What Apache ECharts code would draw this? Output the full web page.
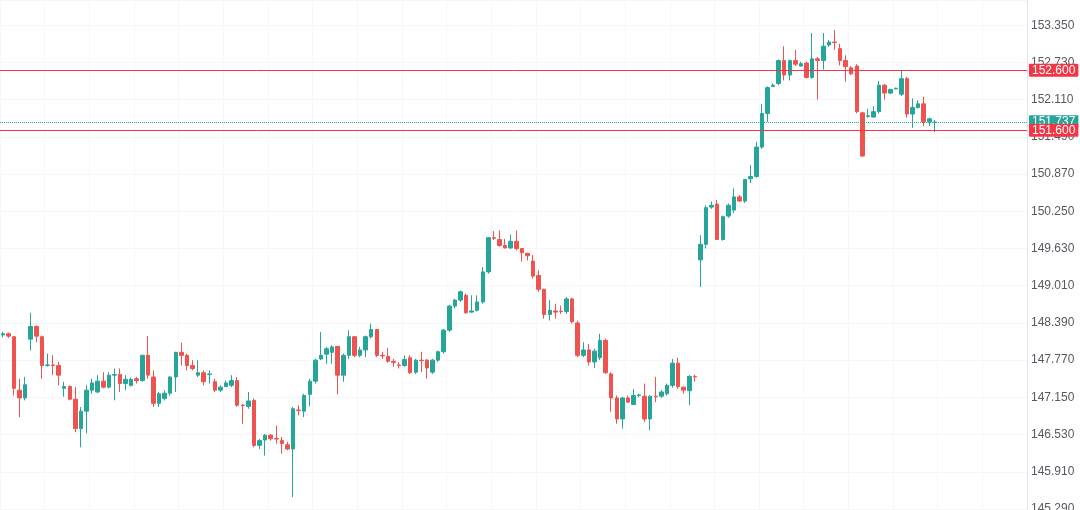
<!DOCTYPE html>
<html>
<head>
<meta charset="utf-8">
<script src="https://cdn.jsdelivr.net/npm/echarts@6/dist/echarts.min.js"></script>
<style>
  html, body { margin: 0; padding: 0; background: #ffffff; }
  #chart { width: 1080px; height: 510px; }
</style>
</head>
<body>
<div id="chart"></div>
<script>
// Candle values: [open, close, low, high]
const candles = [
  [148.19,148.21,148.15,148.24],[148.21,148.17,148.14,148.23],[148.16,147.30,147.18,148.17],[147.27,147.14,146.82,147.46],
  [147.14,147.36,147.10,147.49],[148.12,148.33,147.93,148.56],[148.33,148.17,148.07,148.35],[148.16,147.68,147.46,148.18],
  [147.68,147.69,147.66,147.88],[147.69,147.68,147.52,147.85],[147.68,147.52,147.35,147.74],[147.30,147.33,147.16,147.41],
  [147.33,147.12,147.10,147.35],[147.12,146.63,146.57,147.32],[146.63,146.92,146.32,146.99],[146.92,147.27,146.55,147.35],
  [147.27,147.39,147.21,147.46],[147.24,147.42,147.22,147.52],[147.42,147.32,147.30,147.57],[147.32,147.52,147.30,147.57],
  [147.52,147.53,147.10,147.63],[147.53,147.38,147.24,147.63],[147.38,147.45,147.27,147.52],[147.35,147.45,147.33,147.48],
  [147.46,147.43,147.38,147.49],[147.43,147.85,147.41,147.86],[147.85,147.52,147.46,148.17],[147.49,147.05,146.99,147.60],
  [147.05,147.21,146.99,147.24],[147.13,147.22,147.10,147.27],[147.22,147.49,147.18,147.50],[147.49,147.90,147.24,147.91],
  [147.90,147.85,147.68,148.06],[147.85,147.68,147.60,147.88],[147.68,147.63,147.60,147.77],[147.52,147.56,147.49,147.77],
  [147.56,147.41,147.35,147.60],[147.53,147.54,147.38,147.60],[147.41,147.27,147.24,147.46],[147.27,147.32,147.24,147.35],
  [147.33,147.39,147.32,147.43],[147.35,147.43,147.32,147.52],[147.43,147.02,146.99,147.49],[147.02,147.01,146.71,147.04],
  [147.00,147.09,146.96,147.24],[147.10,146.35,146.32,147.13],[146.35,146.43,146.29,146.46],[146.44,146.52,146.18,146.54],
  [146.52,146.46,146.43,146.54],[146.465,146.455,146.38,146.68],[146.43,146.38,146.21,146.49],[146.36,146.29,146.27,146.41],
  [146.29,146.96,145.49,146.99],[146.94,146.93,146.85,147.02],[146.92,147.18,146.82,147.21],[147.20,147.42,147.00,147.46],
  [147.42,147.77,147.38,147.79],[147.79,147.85,147.77,148.24],[147.87,147.96,147.71,147.99],[147.90,147.99,147.71,148.02],
  [148.00,147.52,147.20,148.00],[147.52,147.85,147.41,147.88],[147.85,148.16,147.79,148.27],[148.16,147.85,147.82,148.17],
  [147.85,147.94,147.82,147.99],[147.94,148.16,147.82,148.18],[148.16,148.28,148.13,148.38],[148.28,147.85,147.82,148.29],
  [147.85,147.84,147.79,147.91],[147.83,147.75,147.73,147.97],[147.75,147.73,147.66,147.79],[147.69,147.68,147.63,147.74],
  [147.68,147.78,147.66,147.85],[147.81,147.56,147.54,147.85],[147.57,147.77,147.54,147.79],[147.77,147.76,147.57,147.91],
  [147.77,147.64,147.46,147.79],[147.57,147.77,147.54,147.79],[147.77,147.91,147.74,147.93],[147.91,148.27,147.88,148.29],
  [148.27,148.67,148.24,148.69],[148.67,148.77,148.63,148.79],[148.77,148.91,148.74,148.93],[148.85,148.56,148.54,148.88],
  [148.57,148.59,148.56,148.85],[148.60,148.74,148.58,148.85],[148.74,149.24,148.71,149.32],[149.24,149.81,149.21,149.82],
  [149.81,149.80,149.77,149.92],[149.78,149.68,149.66,149.93],[149.68,149.64,149.63,149.79],[149.64,149.75,149.62,149.86],
  [149.75,149.63,149.60,149.93],[149.63,149.56,149.41,149.64],[149.55,149.51,149.43,149.56],[149.42,149.17,149.13,149.52],
  [149.18,148.95,148.91,149.27],[148.95,148.53,148.46,148.96],[148.53,148.60,148.43,148.77],[148.59,148.57,148.46,148.71],
  [148.585,148.58,148.54,148.68],[148.58,148.79,148.54,148.82],[148.79,148.41,148.38,148.81],[148.39,147.85,147.82,148.43],
  [147.85,147.94,147.82,148.07],[147.94,147.74,147.68,148.04],[147.74,147.92,147.64,147.96],[147.81,148.10,147.77,148.21],
  [148.10,147.56,147.54,148.13],[147.54,147.14,146.91,147.57],[147.14,146.79,146.71,147.18],[146.79,147.14,146.63,147.16],
  [147.14,147.07,147.06,147.18],[147.03,147.18,147.02,147.29],[147.18,147.19,147.15,147.21],[147.17,146.79,146.74,147.38],
  [146.79,147.17,146.60,147.18],[147.17,147.16,147.07,147.49],[147.17,147.24,147.14,147.27],[147.21,147.35,147.18,147.38],
  [147.35,147.72,147.31,147.79],[147.72,147.33,147.29,147.81],[147.32,147.27,147.21,147.33],[147.26,147.50,147.02,147.52],
  [147.50,147.49,147.41,147.53],[149.44,149.70,148.99,149.85],[149.70,150.31,149.63,150.35],[150.32,150.35,150.29,150.41],
  [150.37,149.78,149.77,150.44],[149.78,150.16,149.76,150.18],[150.17,150.35,150.14,150.38],[150.27,150.49,150.22,150.63],
  [150.49,150.42,150.41,150.52],[150.42,150.78,150.39,150.79],[150.79,150.83,150.72,151.02],[150.83,151.32,150.81,151.41],
  [151.32,151.88,151.29,152.04],[151.88,152.31,151.74,152.33],[152.33,152.35,152.32,152.38],[152.38,152.76,152.35,152.78],
  [152.76,152.52,152.43,153.00],[152.52,152.76,152.43,152.78],[152.76,152.70,152.67,152.94],[152.67,152.71,152.66,152.74],
  [152.72,152.48,152.46,152.74],[152.48,152.79,152.46,153.22],[152.79,152.76,152.11,152.82],[152.76,153.00,152.61,153.22],
  [153.02,153.07,152.99,153.10],[153.07,153.06,152.94,153.27],[152.96,152.76,152.68,153.04],[152.76,152.66,152.41,152.85],
  [152.64,152.54,152.52,152.67],[152.67,151.91,151.88,152.70],[151.89,151.17,151.16,151.91],[151.83,151.84,151.81,151.96],
  [151.82,151.91,151.81,152.00],[151.91,152.35,151.88,152.42],[152.35,152.22,152.11,152.37],[152.22,152.28,152.20,152.29],
  [152.29,152.30,152.28,152.31],[152.20,152.46,152.17,152.59],[152.46,151.87,151.81,152.49],[151.87,151.98,151.64,152.13],
  [151.98,152.04,151.96,152.10],[152.04,151.74,151.67,152.16],[151.74,151.79,151.67,151.81],[151.73,151.737,151.57,151.77]
];
const slotCount = 184;            // total time slots on the axis (empty ones on the right)
const categories = Array.from({length: slotCount}, (_, i) => String(i));
const yMin = 145.29, yMax = 153.77, yStep = 0.62;
const levelLines = [152.6, 151.6];
const lastPrice = 151.737;

const UP = '#26a69a', DOWN = '#ef5350', LEVEL = '#f23645';
const FONT = 'Liberation Sans';

const chart = echarts.init(document.getElementById('chart'), null, {renderer: 'canvas'});
const tagLabel = (bg, v) => ({
  show: true, position: 'end', distance: 2,
  formatter: () => v.toFixed(3),
  color: '#ffffff', backgroundColor: bg, padding: [1, 3, 0, 3],
  fontSize: 12, fontFamily: FONT, borderRadius: 1
});
const markSeries = (color, type, values, z) => ({
  type: 'line', data: [], silent: true, z: z,
  color: color, itemStyle: {color: color}, lineStyle: {color: color},
  markLine: {
    symbol: ['none', 'none'], silent: true, animation: false,
    emphasis: {disabled: true},
    lineStyle: {color: color, type: type, width: 1},
    data: values.map(v => ({yAxis: v, label: tagLabel(color, v)}))
  }
});
chart.setOption({
  animation: false,
  backgroundColor: '#ffffff',
  grid: {left: 0, right: 53, top: 0, bottom: 1, containLabel: false, outerBoundsMode: 'none'},
  xAxis: {
    type: 'category', data: categories, boundaryGap: true,
    axisLine: {show: false}, axisTick: {show: false}, axisLabel: {show: false},
    splitLine: {show: true, interval: (i) => i % 8 === 0, lineStyle: {color: '#f7f7f9', width: 1}}
  },
  yAxis: {
    type: 'value', position: 'right', scale: true,
    min: yMin, max: yMax, interval: yStep,
    axisLine: {show: true, lineStyle: {color: '#e0e3eb'}},
    axisTick: {show: false},
    axisLabel: {
      margin: 4, color: '#555a60', fontSize: 12, fontFamily: FONT, showMaxLabel: false,
      formatter: (v) => v.toFixed(3)
    },
    splitLine: {show: true, lineStyle: {color: '#f6f6f8', width: 1}}
  },
  series: [
    {
      type: 'candlestick', data: candles, clip: false, barWidth: 4, z: 2,
      itemStyle: {color: UP, color0: DOWN, borderColor: UP, borderColor0: DOWN, borderWidth: 1}
    },
    markSeries(UP, 'dotted', [lastPrice], 3),
    // long dash with a tiny gap past the grid edge: renders as a solid 1px line
    markSeries(LEVEL, [2000, 1], levelLines, 4)
  ]
});
</script>
</body>
</html>
